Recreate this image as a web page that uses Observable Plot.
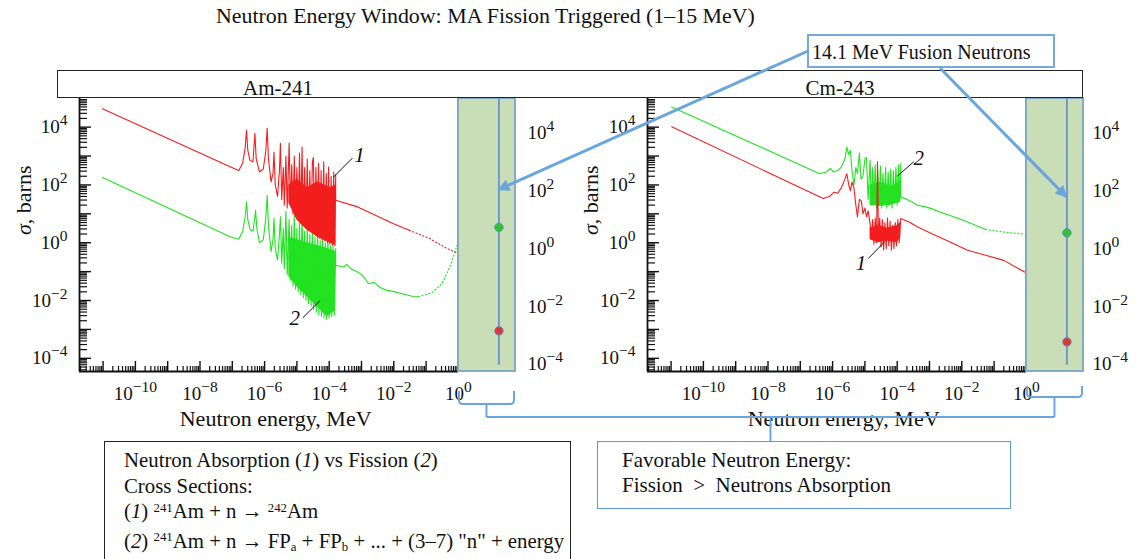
<!DOCTYPE html>
<html><head><meta charset="utf-8">
<script src="https://cdn.jsdelivr.net/npm/d3@7"></script>
<script src="https://cdn.jsdelivr.net/npm/@observablehq/plot@0.6"></script>
<style>
body{margin:0;background:#fff;}
#page{position:relative;width:1136px;height:559px;overflow:hidden;font-family:"Liberation Serif","Times New Roman",serif;color:#111;background:#fff;}
.abs{position:absolute;}
#title{left:216px;top:5px;font-size:21.9px;line-height:1;white-space:nowrap;}
#header{left:57px;top:70px;width:1026px;height:28px;box-sizing:border-box;border:1.5px solid #222;background:#fff;}
#header span{position:absolute;top:7px;font-size:21px;line-height:1;transform:translateX(-50%);white-space:nowrap;}
#fusionBox{left:807px;top:34px;width:248px;height:34px;box-sizing:border-box;border:2px solid #74a9d8;background:#fff;font-size:20px;line-height:1;padding:6px 0 0 3px;white-space:nowrap;}
#leftBox{left:104px;top:441px;width:467px;height:150px;box-sizing:border-box;border:1.5px solid #222;background:#fff;font-size:20.8px;line-height:25.5px;padding:5px 0 0 19px;white-space:nowrap;}
#favBox{left:597px;top:441px;width:414px;height:68px;box-sizing:border-box;border:1.5px solid #5b9bd5;background:#fff;font-size:21px;line-height:25px;padding:6px 0 0 24px;white-space:nowrap;}
.sup{position:relative;top:-0.48em;font-size:0.62em;}
.sub{position:relative;top:0.28em;font-size:0.62em;}
</style></head><body><div id="page"></div>
<script>
// ---------------- data ----------------
const panelNames = ["Am-241", "Cm-243"];
const xDomain = [1.86e-12, 58.6];          // neutron energy, MeV
const yDomain = [3.5e-5, 9.8e4];           // cross section, barns
const xTickValues = [1e-10, 1e-8, 1e-6, 1e-4, 1e-2, 1];
const yTickValues = [1e-4, 1e-2, 1, 1e2, 1e4];
const windowMeV = [1, 58.6];               // green "favourable" energy window
const fusionLineMeV = 18;                  // vertical marker in the window
const dotFissionSigma = [3.4, 2.2];        // green dots (fission) per panel
const dotCaptureSigma = [8.9e-4, 3.7e-4];  // red dots (absorption) per panel
const arrowTipSigma = [66, 37];            // where the callout arrows hit the marker
const axisLabelEnergy = 2.2e-6;

// curves as [log10 E(MeV), log10 sigma(b)]
const am241Capture = [[-11.02,4.64],[-7.05,2.62],[-6.80,2.50],[-6.68,2.75],[-6.60,3.3],[-6.56,3.89],[-6.52,3.2],[-6.45,2.85],[-6.36,2.8],[-6.30,3.79],[-6.26,2.9],[-6.16,2.45],[-6.04,2.55],[-5.96,3.2],[-5.92,3.96],[-5.88,2.9],[-5.80,2.1],[-5.74,2.4],[-5.71,3.13],[-5.67,2.0],[-5.60,1.6],[-5.54,2.5],[-5.51,3.44],[-5.47,1.5],[-5.42,2.6],[-5.39,1.3],[-5.34,3.0],[-5.30,1.2],[-5.24,3.45],[-5.20,1.3],[-5.16,2.7],[-5.12,1.0],[-5.08,3.0],[-5.04,0.9],[-5.00,2.6],[-4.96,0.8],[-4.92,3.1],[-4.88,0.7],[-4.84,3.31],[-4.80,0.6],[-4.76,2.6],[-4.72,0.5],[-4.68,2.9],[-4.64,0.45],[-4.60,2.5],[-4.56,0.4],[-4.52,2.8],[-4.49,2.95],[-4.45,0.3],[-4.41,2.6],[-4.37,0.2],[-4.33,2.75],[-4.29,0.15],[-4.25,2.5],[-4.21,0.1],[-4.17,2.8],[-4.13,0.05],[-4.09,2.4],[-4.05,0.0],[-4.02,2.62],[-3.98,-0.05],[-3.94,2.3],[-3.90,-0.08],[-3.86,2.45],[-3.82,-0.1],[-3.80,2.35],[-3.80,1.47],[-3.12,1.24],[-2.57,0.95],[-2.01,0.66],[-1.52,0.43]];
const am241CaptureTail = [[-1.52,0.43],[-0.9,0.15],[-0.35,-0.2],[0,-0.37]];
const am241CaptureBand = [[-5.25,1.37,2.0],[-4.99,0.78,2.2],[-4.68,0.43,1.9],[-4.37,0.2,2.1],[-3.96,-0.02,1.9],[-3.80,-0.09,2.0]];
const am241Fission = [[-11.02,2.26],[-7.05,0.20],[-6.80,0.12],[-6.68,0.4],[-6.60,0.9],[-6.56,1.41],[-6.52,0.8],[-6.45,0.45],[-6.36,0.4],[-6.30,0.9],[-6.28,1.12],[-6.24,0.5],[-6.16,0.0],[-6.04,0.1],[-5.96,0.9],[-5.92,1.64],[-5.88,0.6],[-5.80,-0.3],[-5.74,0.1],[-5.71,0.85],[-5.67,-0.2],[-5.60,-0.6],[-5.54,0.3],[-5.51,0.9],[-5.47,-0.7],[-5.42,0.5],[-5.39,-0.9],[-5.34,1.1],[-5.30,-1.1],[-5.24,0.8],[-5.20,-1.3],[-5.16,0.6],[-5.12,-1.5],[-5.08,1.0],[-5.04,-1.6],[-5.00,0.5],[-4.96,-1.7],[-4.92,0.8],[-4.88,-1.8],[-4.84,1.0],[-4.80,-1.9],[-4.76,0.4],[-4.72,-2.0],[-4.68,0.6],[-4.64,-2.1],[-4.60,0.3],[-4.56,-2.2],[-4.52,0.5],[-4.48,-2.3],[-4.44,0.2],[-4.40,-2.4],[-4.36,0.4],[-4.32,-2.5],[-4.28,0.1],[-4.24,-2.55],[-4.20,0.3],[-4.16,-2.6],[-4.12,0.0],[-4.08,-2.65],[-4.04,0.2],[-4.00,-2.6],[-3.96,-0.1],[-3.92,-2.55],[-3.88,0.0],[-3.84,-2.5],[-3.80,-0.2],[-3.80,-0.78],[-3.56,-0.84],[-3.45,-0.75],[-3.30,-0.92],[-3.12,-1.01],[-2.95,-1.15],[-2.79,-1.41],[-2.60,-1.38],[-2.42,-1.55],[-2.24,-1.64],[-1.95,-1.70],[-1.68,-1.78],[-1.40,-1.86],[-1.24,-1.87]];
const am241FissionTail = [[-1.24,-1.87],[-0.8,-1.72],[-0.5,-1.4],[-0.25,-0.8],[0,0.05]];
const am241FissionBand = [[-5.25,-1.18,0.2],[-4.99,-1.53,0.1],[-4.68,-1.88,0.0],[-4.37,-2.22,-0.1],[-4.06,-2.57,-0.2],[-3.80,-2.34,-0.3]];

const cm243Capture = [[-10.98,4.01],[-6.29,1.53],[-6.10,1.6],[-5.95,1.75],[-5.84,1.71],[-5.73,1.9],[-5.62,2.2],[-5.56,2.39],[-5.50,2.0],[-5.45,1.8],[-5.40,2.1],[-5.34,1.9],[-5.28,1.3],[-5.23,0.89],[-5.17,1.5],[-5.11,1.45],[-5.06,1.0],[-5.00,1.2],[-4.95,0.9],[-4.90,1.1],[-4.84,0.66],[-4.80,0.2],[-4.76,0.8],[-4.72,-0.05],[-4.68,0.85],[-4.64,0.0],[-4.61,2.8],[-4.58,0.1],[-4.54,0.85],[-4.50,-0.15],[-4.46,0.8],[-4.42,-0.25],[-4.38,0.7],[-4.34,-0.2],[-4.30,0.85],[-4.26,-0.1],[-4.22,0.75],[-4.18,-0.26],[-4.14,0.6],[-4.10,-0.2],[-4.06,0.7],[-4.02,-0.1],[-3.98,0.8],[-3.94,0.0],[-3.89,0.84],[-3.60,0.70],[-3.38,0.55],[-2.94,0.32],[-2.38,0.03],[-1.82,-0.26],[-1.26,-0.43],[-0.70,-0.61],[-0.25,-0.89],[0,-1.05]];
const cm243CaptureTail = [];
const cm243CaptureBand = [[-4.84,0.1,0.5],[-4.6,0.0,0.6],[-4.3,0.05,0.5],[-4.0,0.0,0.6],[-3.89,0.2,0.7]];
const cm243Fission = [[-10.98,4.70],[-6.40,2.39],[-6.20,2.45],[-6.07,2.57],[-5.98,2.45],[-5.84,2.5],[-5.73,2.62],[-5.62,2.9],[-5.56,3.31],[-5.50,3.05],[-5.45,3.2],[-5.40,2.5],[-5.34,1.99],[-5.28,2.6],[-5.23,2.4],[-5.17,3.1],[-5.12,2.2],[-5.06,2.3],[-5.00,2.9],[-4.95,2.95],[-4.90,1.5],[-4.84,2.85],[-4.80,1.3],[-4.76,2.6],[-4.72,1.4],[-4.68,2.7],[-4.64,1.2],[-4.60,2.5],[-4.56,1.3],[-4.52,2.65],[-4.48,1.2],[-4.44,2.4],[-4.40,1.4],[-4.36,2.6],[-4.32,1.2],[-4.28,2.45],[-4.24,1.3],[-4.20,2.55],[-4.16,1.2],[-4.12,2.5],[-4.08,1.4],[-4.04,2.6],[-4.00,1.3],[-3.96,2.7],[-3.92,1.5],[-3.89,2.75],[-3.89,1.58],[-3.70,1.5],[-3.55,1.42],[-3.38,1.30],[-3.15,1.25],[-2.94,1.18],[-2.65,1.05],[-2.38,0.95],[-1.82,0.72],[-1.26,0.46]];
const cm243FissionTail = [[-1.26,0.46],[-0.70,0.37],[0,0.29]];
const cm243FissionBand = [[-4.84,1.3,2.0],[-4.5,1.25,2.1],[-4.2,1.3,1.95],[-3.89,1.4,2.1]];

// curve labels "1" (absorption) and "2" (fission) with leader lines
const am241LabelText = ["1", "2"];
const am241LabelPos = [[-3.06,3.03],[-5.07,-2.62]];
const am241Leaders = [[-3.87,2.27,-3.28,2.93],[-4.82,-2.6,-4.28,-2.0]];
const cm243LabelText = ["2", "1"];
const cm243LabelPos = [[-3.33,2.91],[-5.12,-0.72]];
const cm243Leaders = [[-4.0,2.30,-3.49,2.80],[-4.90,-0.55,-4.39,0.03]];

// ---------------- drawing ----------------
const RED = "#f21e1e", GREEN = "#22e222", BLUE = "#6aa6db";
const FONT = '"Liberation Serif","Times New Roman",serif';
const page = document.getElementById("page");

function addDiv(id, html) {
  const d = document.createElement("div");
  d.id = id; d.className = "abs"; d.innerHTML = html; page.appendChild(d); return d;
}

function majorMinor(lo, hi, kFrom, kTo) {
  const major = [], minor = [];
  for (let k = kFrom; k <= kTo; k++) for (let m = 1; m <= 9; m++) {
    const v = m * Math.pow(10, k);
    if (v >= lo && v <= hi) (m === 1 ? major : minor).push(v);
  }
  return {major, minor};
}

const fmt = d => "10^" + String(Math.round(Math.log10(d))).replace("-", "\u2212");

function buildPanel(cfg, i) {
  const width = cfg.width, marginLeft = cfg.marginLeft, marginRight = cfg.marginRight;
  const marginTop = 28, marginBottom = 60, height = 361;
  const frameW = width - marginLeft - marginRight;
  const frameH = height - marginTop - marginBottom;
  const P = a => a.map(d => ({e: Math.pow(10, d[0]), s: Math.pow(10, d[1])}));
  const B = a => a.map(d => ({e: Math.pow(10, d[0]), lo: Math.pow(10, d[1]), hi: Math.pow(10, d[2])}));
  const xt = majorMinor(xDomain[0], windowMeV[0], -12, 0);
  const yt = majorMinor(yDomain[0], yDomain[1], -5, 4);
  const labels = cfg.labelText.map((t, j) => ({t, e: Math.pow(10, cfg.labelPos[j][0]), s: Math.pow(10, cfg.labelPos[j][1])}));
  const leaders = cfg.leaders.map(d => ({x1: Math.pow(10, d[0]), y1: Math.pow(10, d[1]), x2: Math.pow(10, d[2]), y2: Math.pow(10, d[3])}));

  const chart = Plot.plot({
    width, height, marginLeft, marginRight, marginTop, marginBottom,
    style: {fontFamily: FONT, fontSize: "19px", background: "transparent", overflow: "visible", color: "#111"},
    x: {type: "log", domain: xDomain},
    y: {type: "log", domain: yDomain},
    marks: [
      Plot.tickX(xt.minor, {x: d => d, stroke: "#111", strokeWidth: 1.2, insetTop: frameH - 5}),
      Plot.tickX(xt.major, {x: d => d, stroke: "#111", strokeWidth: 1.4, insetTop: frameH - 10}),
      Plot.tickY(yt.minor, {y: d => d, stroke: "#111", strokeWidth: 1.2, insetRight: frameW - 8}),
      Plot.tickY(yt.major, {y: d => d, stroke: "#111", strokeWidth: 1.4, insetRight: frameW - 12}),
      Plot.ruleX([xDomain[0]], {stroke: "#111", strokeWidth: 1.8}),
      Plot.ruleY([yDomain[0]], {x1: () => xDomain[0], x2: () => windowMeV[0], stroke: "#111", strokeWidth: 1.8}),
      Plot.areaY(B(cfg.fissionBand), {x: "e", y1: "lo", y2: "hi", fill: GREEN}),
      Plot.line(P(cfg.fission), {x: "e", y: "s", stroke: GREEN, strokeWidth: 1.1}),
      Plot.line(P(cfg.fissionTail), {x: "e", y: "s", stroke: GREEN, strokeWidth: 1.1, strokeDasharray: "1.2,2.4"}),
      Plot.areaY(B(cfg.captureBand), {x: "e", y1: "lo", y2: "hi", fill: RED}),
      Plot.line(P(cfg.capture), {x: "e", y: "s", stroke: RED, strokeWidth: 1.1}),
      Plot.line(P(cfg.captureTail), {x: "e", y: "s", stroke: RED, strokeWidth: 1.1, strokeDasharray: "1.2,2.4"}),
      Plot.rect([windowMeV], {x1: d => d[0], x2: d => d[1], y1: () => yDomain[0], y2: () => yDomain[1], fill: "#c9ddb6", stroke: "#7aa3c6", strokeWidth: 1.8}),
      Plot.ruleX([fusionLineMeV], {y1: () => 5.8e-5, y2: () => yDomain[1], stroke: "#6f9ccb", strokeWidth: 2}),
      Plot.dot([{e: fusionLineMeV, s: dotFissionSigma[i]}], {x: "e", y: "s", r: 4.2, fill: "#2fc42f", stroke: "#5c8fb8", strokeWidth: 1}),
      Plot.dot([{e: fusionLineMeV, s: dotCaptureSigma[i]}], {x: "e", y: "s", r: 4.2, fill: "#d83a3a", stroke: "#7a7fb0", strokeWidth: 1}),
      Plot.link(leaders, {x1: "x1", y1: "y1", x2: "x2", y2: "y2", stroke: "#111", strokeWidth: 1}),
      Plot.text(labels, {x: "e", y: "s", text: "t", fontSize: 21, fontStyle: "italic", fill: "#111"}),
      Plot.axisX({ticks: xTickValues, tickFormat: fmt, tickSize: 0, tickPadding: 15, label: null, fontSize: 19}),
      Plot.axisY({anchor: "left", ticks: yTickValues, tickFormat: fmt, tickSize: 0, tickPadding: 12, label: null, fontSize: 19}),
      Plot.axisY({anchor: "right", ticks: yTickValues, tickFormat: fmt, tickSize: 0, tickPadding: cfg.rightPad, label: null, fontSize: 19, dy: 6}),
      Plot.text(["Neutron energy, MeV"], {x: () => axisLabelEnergy, frameAnchor: "bottom", dy: 54, text: d => d, fontSize: 22, fill: "#111"}),
      Plot.text(["\u03c3, barns"], {frameAnchor: "left", dx: cfg.sigmaDx, rotate: -90, text: d => d, fontSize: 22, fill: "#111"})
    ]
  });

  // superscript exponents and italic sigma
  d3.select(chart).selectAll("text").each(function () {
    const t = this.textContent;
    const m = /^10\^(.+)$/.exec(t);
    const s = d3.select(this);
    if (m && this.childNodes.length <= 1) {
      s.text("");
      s.append("tspan").text("10");
      s.append("tspan").attr("dy", "-8").attr("font-size", "15.5px").text(m[1]);
    } else if (t === "\u03c3, barns") {
      s.text("");
      s.append("tspan").attr("font-style", "italic").text("\u03c3");
      s.append("tspan").text(", barns");
    }
  });

  const holder = document.createElement("div");
  holder.className = "abs";
  holder.style.left = cfg.left + "px";
  holder.style.top = cfg.top + "px";
  holder.appendChild(chart);
  page.appendChild(holder);

  const xs = d3.scaleLog().domain(xDomain).range([cfg.left + marginLeft, cfg.left + width - marginRight]);
  const ys = d3.scaleLog().domain(yDomain).range([cfg.top + height - marginBottom, cfg.top + marginTop]);
  return {xs, ys};
}

addDiv("title", "Neutron Energy Window: MA Fission Triggered (1\u201315 MeV)");

const panelCfg = [
  {left: 0, top: 70, width: 570, marginLeft: 79, marginRight: 55, rightPad: 12, sigmaDx: -56,
   capture: am241Capture, captureTail: am241CaptureTail, captureBand: am241CaptureBand,
   fission: am241Fission, fissionTail: am241FissionTail, fissionBand: am241FissionBand,
   labelText: am241LabelText, labelPos: am241LabelPos, leaders: am241Leaders},
  {left: 570, top: 70, width: 566, marginLeft: 77, marginRight: 53, rightPad: 9, sigmaDx: -57,
   capture: cm243Capture, captureTail: cm243CaptureTail, captureBand: cm243CaptureBand,
   fission: cm243Fission, fissionTail: cm243FissionTail, fissionBand: cm243FissionBand,
   labelText: cm243LabelText, labelPos: cm243LabelPos, leaders: cm243Leaders}
];
const scales = panelCfg.map(buildPanel);

const header = addDiv("header", "");
panelNames.forEach((n, i) => {
  const s = document.createElement("span");
  s.textContent = n;
  s.style.left = ([277, 839][i] - 57) + "px";
  header.appendChild(s);
});

addDiv("fusionBox", "14.1 MeV Fusion Neutrons");
addDiv("leftBox",
  '<div>Neutron Absorption (<i>1</i>) vs Fission (<i>2</i>)</div>' +
  '<div>Cross Sections:</div>' +
  '<div>(<i>1</i>) <span class="sup">241</span>Am + n \u2192 <span class="sup">242</span>Am</div>' +
  '<div>(<i>2</i>) <span class="sup">241</span>Am + n \u2192 FP<span class="sub">a</span> + FP<span class="sub">b</span> + ... + (3\u20137) "n" + energy</div>');
addDiv("favBox", '<div>Favorable Neutron Energy:</div><div>Fission &nbsp;&gt;&nbsp; Neutrons Absorption</div>');

// ---------------- annotation overlay ----------------
const ov = d3.select(page).append("svg").attr("class", "abs")
  .attr("width", 1136).attr("height", 559).style("left", "0px").style("top", "0px").style("pointer-events", "none");
ov.append("defs").append("marker").attr("id", "ah").attr("viewBox", "0 0 10 10")
  .attr("refX", 9).attr("refY", 5).attr("markerWidth", 13).attr("markerHeight", 12)
  .attr("markerUnits", "userSpaceOnUse").attr("orient", "auto")
  .append("path").attr("d", "M0,0L10,5L0,10z").attr("fill", BLUE);

const arrowStarts = [[808, 51], [940, 68]];
scales.forEach((sc, i) => {
  const tx = sc.xs(fusionLineMeV), ty = sc.ys(arrowTipSigma[i]);
  ov.append("line").attr("x1", arrowStarts[i][0]).attr("y1", arrowStarts[i][1])
    .attr("x2", tx).attr("y2", ty).attr("stroke", BLUE).attr("stroke-width", 3)
    .attr("marker-end", "url(#ah)");
});

// braces under the energy windows, joined by a connector to the "Favorable" box
const braceTop = [391, 386], braceMid = [404, 397], joinY = 417;
const stems = scales.map((sc, i) => {
  const x1 = sc.xs(windowMeV[0]) + 1, x2 = sc.xs(windowMeV[1]) - 1, st = (x1 + x2) / 2;
  const t = braceTop[i], m = braceMid[i];
  ov.append("path").attr("fill", "none").attr("stroke", BLUE).attr("stroke-width", 2)
    .attr("d", `M${x1},${t}L${x1},${m - 4}Q${x1},${m} ${x1 + 4},${m}L${x2 - 4},${m}Q${x2},${m} ${x2},${m - 4}L${x2},${t}M${st},${m}L${st},${joinY}`);
  return st;
});
ov.append("line").attr("x1", stems[0]).attr("x2", stems[1]).attr("y1", joinY).attr("y2", joinY)
  .attr("stroke", BLUE).attr("stroke-width", 2);
const mid = (stems[0] + stems[1]) / 2;
ov.append("line").attr("x1", mid).attr("x2", mid).attr("y1", joinY).attr("y2", 441)
  .attr("stroke", BLUE).attr("stroke-width", 2);
</script></body></html>
